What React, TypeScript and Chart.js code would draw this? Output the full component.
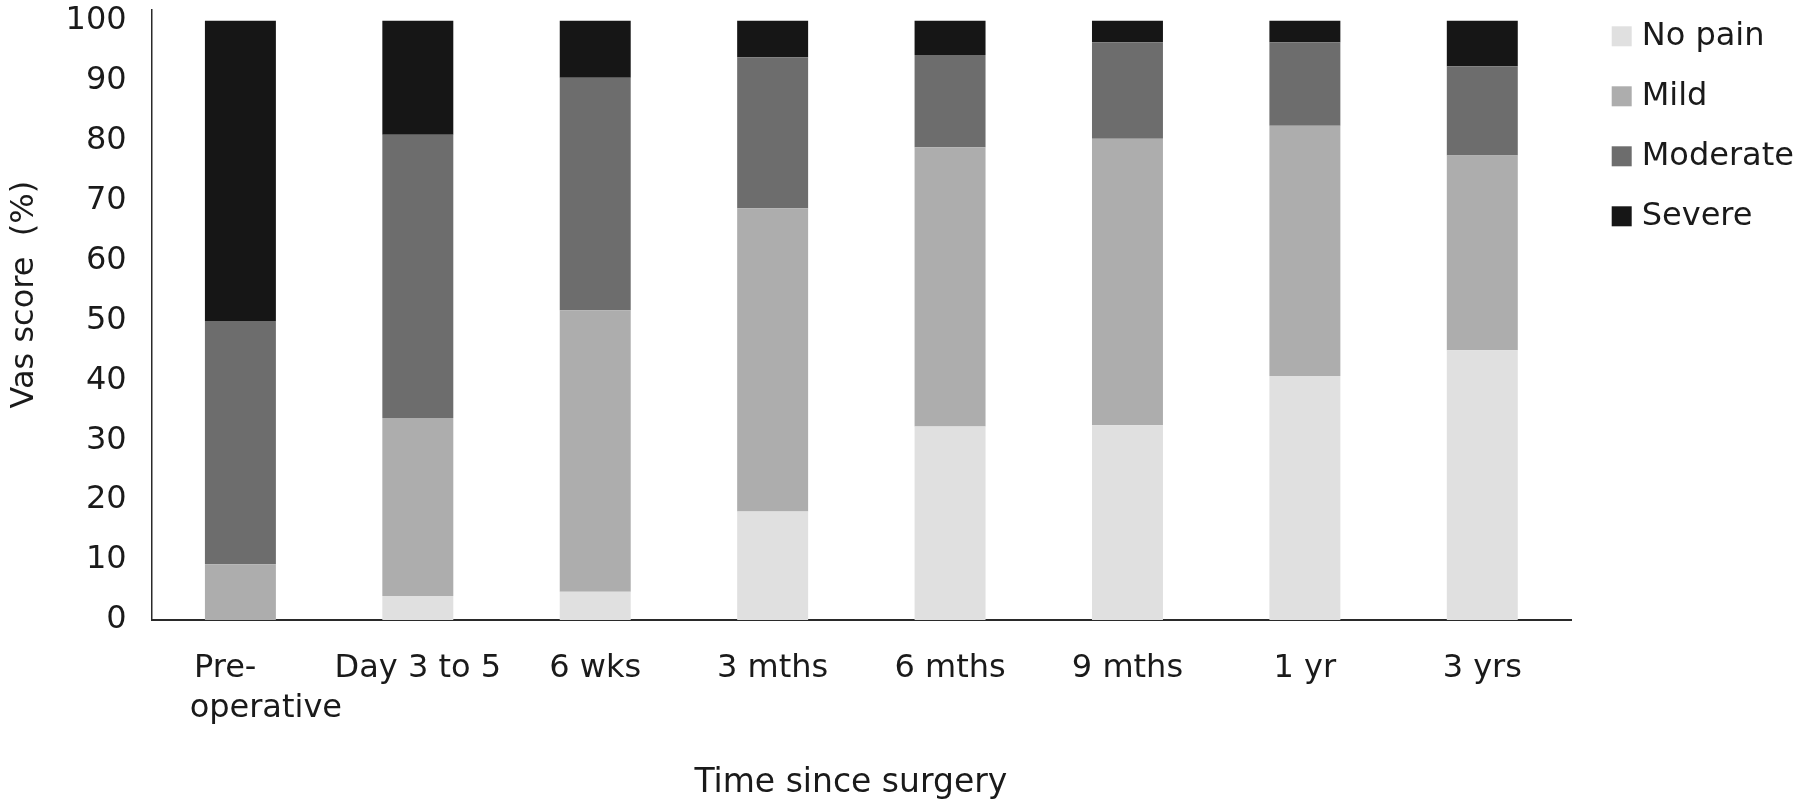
import React, { useEffect, useRef } from "react";
import { Chart, registerables } from "chart.js";

Chart.register(...registerables);

const categories: (string | string[])[] = [
  ["Pre-   ", "     operative"],
  "Day 3 to 5",
  "6 wks",
  "3 mths",
  "6 mths",
  "9 mths",
  "1 yr",
  "3 yrs",
];

const seriesNames = ["No pain", "Mild", "Moderate", "Severe"];
const seriesColors = ["#e0e0e0", "#adadad", "#6d6d6d", "#161616"];

const noPain = [0, 4.0, 4.7, 18.1, 32.3, 32.5, 40.7, 45.0];
const mild = [9.3, 29.7, 47.0, 50.6, 46.6, 47.8, 41.8, 32.5];
const moderate = [40.6, 47.3, 38.8, 25.2, 15.4, 16.1, 13.9, 14.9];
const severe = [50.1, 19.0, 9.5, 6.1, 5.7, 3.6, 3.6, 7.6];

const yTickStep = 10;

const FONT = "'DejaVu Sans', 'Liberation Sans', sans-serif";
const TEXT = "#1a1a1a";

const legendPlugin = {
  id: "sideLegend",
  afterDraw(chart: any) {
    const ctx = chart.ctx;
    const x0 = chart.chartArea.right + 40.7;
    ctx.save();
    ctx.font = `32px ${FONT}`;
    ctx.textBaseline = "middle";
    ctx.textAlign = "left";
    chart.data.datasets.forEach((ds: any, i: number) => {
      const cy = 36.3 + i * 60;
      ctx.fillStyle = ds.backgroundColor;
      ctx.fillRect(x0, cy - 10, 20, 20);
      ctx.fillStyle = TEXT;
      ctx.fillText(ds.label, x0 + 30, cy);
    });
    ctx.restore();
  },
};

export default function App() {
  const ref = useRef<HTMLCanvasElement | null>(null);

  useEffect(() => {
    document.body.style.margin = "0";
    const canvas = ref.current;
    if (!canvas) return;
    const values = [noPain, mild, moderate, severe];
    const chart = new Chart(canvas, {
      type: "bar",
      data: {
        labels: categories,
        datasets: values.map((v, i) => ({
          label: seriesNames[i],
          data: v,
          backgroundColor: seriesColors[i],
          borderWidth: 0,
          barPercentage: 0.4,
          categoryPercentage: 1,
        })),
      },
      options: {
        responsive: false,
        animation: false,
        devicePixelRatio: 1,
        layout: { padding: { left: 0, top: 10, right: 229, bottom: 0 } },
        plugins: {
          legend: { display: false },
          tooltip: { enabled: false },
        },
        scales: {
          x: {
            stacked: true,
            grid: { display: false, drawTicks: false },
            border: { display: true, color: "#2a2a2a", width: 2 },
            ticks: {
              color: TEXT,
              font: { family: FONT, size: 32, lineHeight: 1.25 },
              padding: 28.5,
              maxRotation: 0,
              autoSkip: false,
            },
            title: {
              display: true,
              text: "Time since surgery  ",
              color: TEXT,
              font: { family: FONT, size: 33, lineHeight: 1.0 },
              padding: { top: 0, bottom: 1.5 },
            },
            afterFit: (scale: any) => {
              scale.height = 181;
              scale.paddingLeft = 0;
              scale.paddingRight = 0;
            },
          },
          y: {
            stacked: true,
            min: 0,
            max: 101.8,
            grid: { display: false, drawTicks: false },
            border: { display: true, color: "#2a2a2a", width: 1.5 },
            ticks: {
              stepSize: yTickStep,
              includeBounds: false,
              color: TEXT,
              font: { family: FONT, size: 32 },
              padding: 25,
            },
            title: {
              display: true,
              text: "    Vas score  (%)",
              color: TEXT,
              font: { family: FONT, size: 32, lineHeight: 1.2 },
              padding: { top: 5, bottom: 0 },
            },
            afterFit: (scale: any) => {
              scale.width = 151.7;
              scale.paddingTop = 0;
              scale.paddingBottom = 0;
            },
          },
        },
      },
      plugins: [legendPlugin],
    } as any);
    return () => chart.destroy();
  }, []);

  return (
    <div style={{ position: "absolute", left: 0, top: 0, width: 1800, height: 801, background: "#fff" }}>
      <canvas ref={ref} width={1800} height={801} style={{ display: "block" }} />
    </div>
  );
}
